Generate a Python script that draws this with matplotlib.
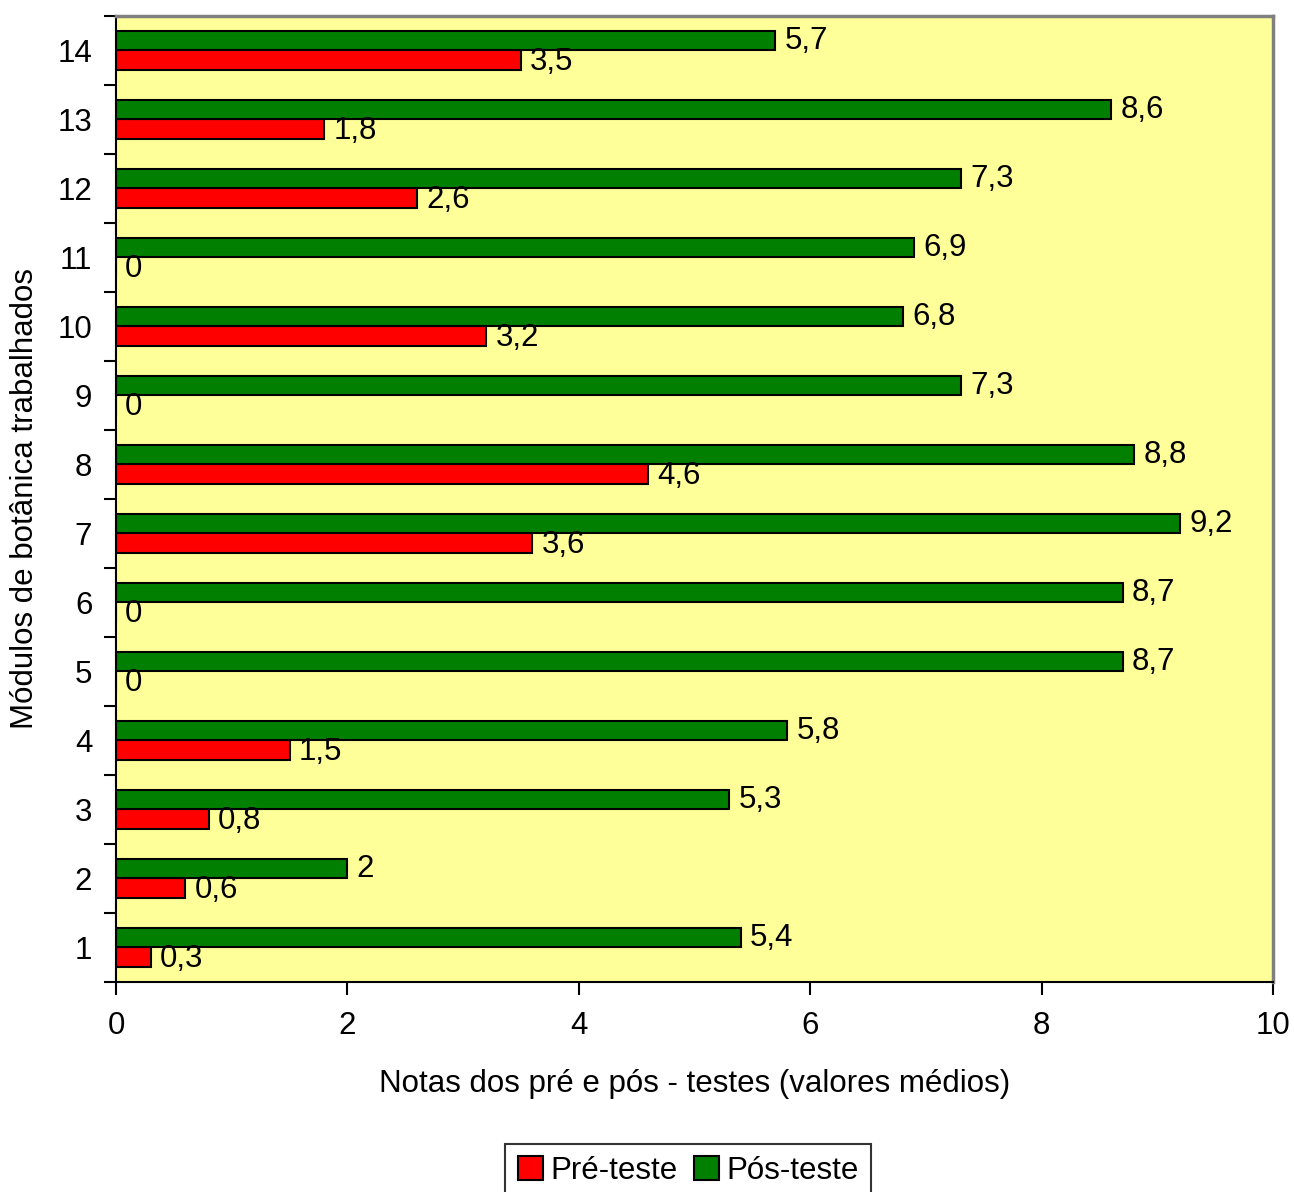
import numpy as np
import matplotlib.pyplot as plt

plt.rcParams['font.family'] = ['Liberation Sans', 'DejaVu Sans']

modulos = [str(i) for i in range(1, 15)]
pre_teste = [0.3, 0.6, 0.8, 1.5, 0, 0, 3.6, 4.6, 0, 3.2, 0, 2.6, 1.8, 3.5]
pos_teste = [5.4, 2, 5.3, 5.8, 8.7, 8.7, 9.2, 8.8, 7.3, 6.8, 6.9, 7.3, 8.6, 5.7]

FS = 22.5


def fmt(v):
    s = ('%.1f' % v).rstrip('0').rstrip('.')
    return s.replace('.', ',')


fig = plt.figure(figsize=(12.94, 11.92), dpi=100)
ax = fig.add_axes([0.0896, 0.1762, 0.8942, 0.8104])
ax.set_facecolor('#FFFF99')

y = np.arange(len(modulos))
h = 0.28
b1 = ax.barh(y - h / 2, pre_teste, height=h, color='#FF0000', edgecolor='black',
             linewidth=1.5, label='Pré-teste')
b2 = ax.barh(y + h / 2, pos_teste, height=h, color='#007F00', edgecolor='black',
             linewidth=1.5, label='Pós-teste')

for i in range(len(modulos)):
    ax.text(pre_teste[i] + 0.08, y[i] - h / 2 - 0.02, fmt(pre_teste[i]), va='center',
            ha='left', fontsize=FS)
    ax.text(pos_teste[i] + 0.08, y[i] + h / 2, fmt(pos_teste[i]), va='center',
            ha='left', fontsize=FS)

ax.set_xlim(0, 10)
ax.set_ylim(-0.5, len(modulos) - 0.5)
ax.set_xticks(range(0, 11, 2))
ax.set_yticks(y)
ax.set_yticklabels(modulos)
ax.set_yticks(np.arange(-0.5, len(modulos), 1), minor=True)
ax.tick_params(axis='y', which='major', length=0, pad=17, labelsize=FS)
ax.tick_params(axis='y', which='minor', length=9, width=1.5, direction='out')
ax.tick_params(axis='x', length=9, width=1.5, direction='out', pad=12, labelsize=FS)

for s in ['left', 'bottom']:
    ax.spines[s].set_linewidth(1.5)
    ax.spines[s].set_color('black')
for s in ['top', 'right']:
    ax.spines[s].set_linewidth(2.5)
    ax.spines[s].set_color('#808080')

ax.set_xlabel('Notas dos pré e pós - testes (valores médios)', fontsize=FS, labelpad=20)
ax.set_ylabel('Módulos de botânica trabalhados', fontsize=FS)
ax.yaxis.set_label_coords(-0.066, 0.5)

leg = fig.legend(handles=[b1, b2], loc='lower center', bbox_to_anchor=(0.532, -0.016),
                 ncol=2, fontsize=FS, frameon=True, fancybox=False, edgecolor='black',
                 handlelength=0.8, handleheight=0.8, handletextpad=0.25, columnspacing=0.5,
                 borderpad=0.4, borderaxespad=0.4)
leg.get_frame().set_linewidth(1.5)

fig.savefig('out.png', dpi=100)
